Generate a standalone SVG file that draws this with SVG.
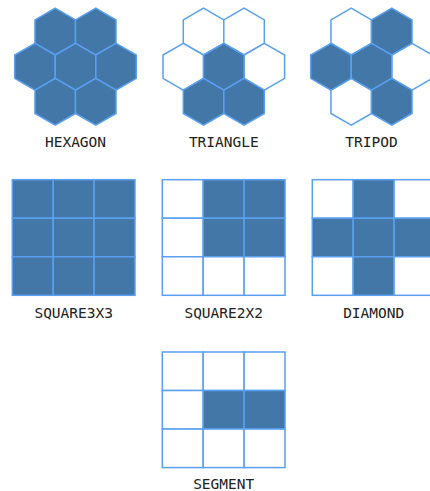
<svg xmlns="http://www.w3.org/2000/svg" xmlns:xlink="http://www.w3.org/1999/xlink" width="430" height="491" viewBox="0 0 430 491">
<style>
.on{fill:#4277a8;stroke:#5aa0f0;stroke-width:1.5}
.off{fill:#ffffff;stroke:#5aa0f0;stroke-width:1.5}
.lbl{font-family:"DejaVu Sans Mono","Liberation Mono",monospace;font-size:14.5px;fill:#222222;text-anchor:middle}
</style>
<defs>
<polygon id="hx" points="0,-23.4 20.26,-11.7 20.26,11.7 0,23.4 -20.26,11.7 -20.26,-11.7"/>
<rect id="sq" x="0" y="0" width="40.9" height="38.53"/>
</defs>
<rect width="430" height="491" fill="#ffffff"/>
<g id="hexagon">
<g transform="translate(75.5,66.7)">
<use href="#hx" class="on" x="-20.26" y="-35.1"/>
<use href="#hx" class="on" x="20.26" y="-35.1"/>
<use href="#hx" class="on" x="-40.53" y="0"/>
<use href="#hx" class="on" x="0" y="0"/>
<use href="#hx" class="on" x="40.53" y="0"/>
<use href="#hx" class="on" x="-20.26" y="35.1"/>
<use href="#hx" class="on" x="20.26" y="35.1"/>
</g>
<text class="lbl" x="75.5" y="147.3">HEXAGON</text>
</g>
<g id="triangle">
<g transform="translate(223.8,66.7)">
<use href="#hx" class="off" x="-20.26" y="-35.1"/>
<use href="#hx" class="off" x="20.26" y="-35.1"/>
<use href="#hx" class="off" x="-40.53" y="0"/>
<use href="#hx" class="off" x="40.53" y="0"/>
<use href="#hx" class="on" x="0" y="0"/>
<use href="#hx" class="on" x="-20.26" y="35.1"/>
<use href="#hx" class="on" x="20.26" y="35.1"/>
</g>
<text class="lbl" x="223.8" y="147.3">TRIANGLE</text>
</g>
<g id="tripod">
<g transform="translate(371.5,66.7)">
<use href="#hx" class="off" x="-20.26" y="-35.1"/>
<use href="#hx" class="off" x="40.53" y="0"/>
<use href="#hx" class="off" x="-20.26" y="35.1"/>
<use href="#hx" class="on" x="20.26" y="-35.1"/>
<use href="#hx" class="on" x="-40.53" y="0"/>
<use href="#hx" class="on" x="0" y="0"/>
<use href="#hx" class="on" x="20.26" y="35.1"/>
</g>
<text class="lbl" x="371.5" y="147.3">TRIPOD</text>
</g>
<g id="square3x3">
<g transform="translate(12.3,179.7)">
<use href="#sq" class="on" x="0" y="0"/>
<use href="#sq" class="on" x="40.9" y="0"/>
<use href="#sq" class="on" x="81.8" y="0"/>
<use href="#sq" class="on" x="0" y="38.53"/>
<use href="#sq" class="on" x="40.9" y="38.53"/>
<use href="#sq" class="on" x="81.8" y="38.53"/>
<use href="#sq" class="on" x="0" y="77.06"/>
<use href="#sq" class="on" x="40.9" y="77.06"/>
<use href="#sq" class="on" x="81.8" y="77.06"/>
</g>
<text class="lbl" x="73.7" y="318.3">SQUARE3X3</text>
</g>
<g id="square2x2">
<g transform="translate(162.3,179.7)">
<use href="#sq" class="off" x="0" y="0"/>
<use href="#sq" class="on" x="40.9" y="0"/>
<use href="#sq" class="on" x="81.8" y="0"/>
<use href="#sq" class="off" x="0" y="38.53"/>
<use href="#sq" class="on" x="40.9" y="38.53"/>
<use href="#sq" class="on" x="81.8" y="38.53"/>
<use href="#sq" class="off" x="0" y="77.06"/>
<use href="#sq" class="off" x="40.9" y="77.06"/>
<use href="#sq" class="off" x="81.8" y="77.06"/>
</g>
<text class="lbl" x="223.7" y="318.3">SQUARE2X2</text>
</g>
<g id="diamond">
<g transform="translate(312.3,179.7)">
<use href="#sq" class="off" x="0" y="0"/>
<use href="#sq" class="on" x="40.9" y="0"/>
<use href="#sq" class="off" x="81.8" y="0"/>
<use href="#sq" class="on" x="0" y="38.53"/>
<use href="#sq" class="on" x="40.9" y="38.53"/>
<use href="#sq" class="on" x="81.8" y="38.53"/>
<use href="#sq" class="off" x="0" y="77.06"/>
<use href="#sq" class="on" x="40.9" y="77.06"/>
<use href="#sq" class="off" x="81.8" y="77.06"/>
</g>
<text class="lbl" x="373.7" y="318.3">DIAMOND</text>
</g>
<g id="segment">
<g transform="translate(162.3,352)">
<use href="#sq" class="off" x="0" y="0"/>
<use href="#sq" class="off" x="40.9" y="0"/>
<use href="#sq" class="off" x="81.8" y="0"/>
<use href="#sq" class="off" x="0" y="38.53"/>
<use href="#sq" class="on" x="40.9" y="38.53"/>
<use href="#sq" class="on" x="81.8" y="38.53"/>
<use href="#sq" class="off" x="0" y="77.06"/>
<use href="#sq" class="off" x="40.9" y="77.06"/>
<use href="#sq" class="off" x="81.8" y="77.06"/>
</g>
<text class="lbl" x="223.7" y="489.3">SEGMENT</text>
</g>
<g id="connectors"/>
</svg>
